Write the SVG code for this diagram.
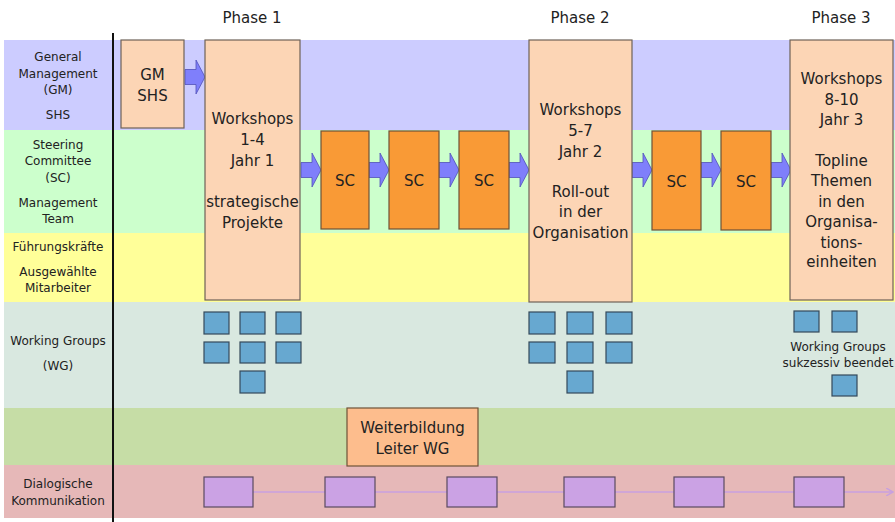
<svg xmlns="http://www.w3.org/2000/svg" xmlns:xlink="http://www.w3.org/1999/xlink" width="895" height="522" viewBox="0 0 895 522">
  <style>
    text { font-family: "DejaVu Sans", Verdana, sans-serif; fill: #222; text-anchor: middle; }
    .lbl { font-size: 12px; }
    .big { font-size: 15px; }
    .ws { fill: #fcd5b5; stroke: #6e6258; stroke-width: 1.2; }
    .sc { fill: #f99a36; stroke: #6e5238; stroke-width: 1.2; }
    .wg { fill: #67a8d0; stroke: #34495a; stroke-width: 1.2; }
    .wb { fill: #fdbd8d; stroke: #6e5238; stroke-width: 1.2; }
    .dk { fill: #cba2e4; stroke: #5a4a60; stroke-width: 1.2; }
    .arr { fill: #7f7ffb; stroke: #5050b8; stroke-width: 0.8; }
  </style>
  <defs>
    <!-- block arrow, 20 wide, centred on y=0 -->
    <path id="blk" d="M0,-7.5 H11 V-17 L20,0 L11,17 V7.5 H0 Z"/>
    <marker id="tip" markerWidth="8" markerHeight="8" refX="7" refY="4" orient="auto" markerUnits="userSpaceOnUse">
      <path d="M0,0 L7,4 L0,8" fill="none" stroke="#c8a0e0" stroke-width="1.5"/>
    </marker>
  </defs>

  <rect width="895" height="522" fill="#ffffff"/>

  <!-- swimlane bands -->
  <g id="lanes">
    <rect x="4" y="40" width="891" height="90" fill="#ccccff"/>
    <rect x="4" y="130" width="891" height="103" fill="#ccffcc"/>
    <rect x="4" y="233" width="891" height="69" fill="#ffff99"/>
    <rect x="4" y="302" width="891" height="106" fill="#d9e8e0"/>
    <rect x="4" y="408" width="891" height="57" fill="#c6dda6"/>
    <rect x="4" y="465" width="891" height="53" fill="#e6b8b8"/>
  </g>

  <!-- lane labels -->
  <g id="lane-labels">
    <text class="lbl" x="58" y="61">General</text>
    <text class="lbl" x="58" y="78">Management</text>
    <text class="lbl" x="58" y="94">(GM)</text>
    <text class="lbl" x="58" y="119">SHS</text>
    <text class="lbl" x="58" y="149">Steering</text>
    <text class="lbl" x="58" y="165">Committee</text>
    <text class="lbl" x="58" y="182">(SC)</text>
    <text class="lbl" x="58" y="207">Management</text>
    <text class="lbl" x="58" y="223">Team</text>
    <text class="lbl" x="58" y="251">Führungskräfte</text>
    <text class="lbl" x="58" y="276">Ausgewählte</text>
    <text class="lbl" x="58" y="292">Mitarbeiter</text>
    <text class="lbl" x="58" y="345">Working Groups</text>
    <text class="lbl" x="58" y="370">(WG)</text>
    <text class="lbl" x="58" y="488">Dialogische</text>
    <text class="lbl" x="58" y="505">Kommunikation</text>
  </g>

  <line x1="113" y1="33" x2="113" y2="522" stroke="#111" stroke-width="2"/>

  <!-- phase headings -->
  <g id="phases">
    <text class="big" x="252" y="23">Phase 1</text>
    <text class="big" x="580" y="23">Phase 2</text>
    <text class="big" x="841" y="23">Phase 3</text>
  </g>

  <!-- connectors -->
  <g id="connectors">
    <use xlink:href="#blk" class="arr" x="185" y="77"/>
    <use xlink:href="#blk" class="arr" x="301" y="170"/>
    <use xlink:href="#blk" class="arr" x="369" y="170"/>
    <use xlink:href="#blk" class="arr" x="439" y="170"/>
    <use xlink:href="#blk" class="arr" x="509" y="170"/>
    <use xlink:href="#blk" class="arr" x="632" y="170"/>
    <use xlink:href="#blk" class="arr" x="701" y="170"/>
    <use xlink:href="#blk" class="arr" x="771" y="170"/>
    <line x1="253" y1="492" x2="893" y2="492" stroke="#c8a0e0" stroke-width="1.5" marker-end="url(#tip)"/>
  </g>

  <g id="gm-shs">
    <rect class="ws" x="121" y="40" width="63" height="88"/>
    <text class="big" x="152.5" y="80">GM</text>
    <text class="big" x="152.5" y="101">SHS</text>
  </g>

  <g id="workshops-1">
    <rect class="ws" x="205" y="40" width="95" height="260"/>
    <text class="big" x="252.5" y="124">Workshops</text>
    <text class="big" x="252.5" y="145">1-4</text>
    <text class="big" x="252.5" y="166">Jahr 1</text>
    <text class="big" x="252.5" y="207">strategische</text>
    <text class="big" x="252.5" y="228">Projekte</text>
  </g>

  <g id="sc-1"><rect class="sc" x="321" y="131" width="48" height="98"/><text class="big" x="345" y="186">SC</text></g>
  <g id="sc-2"><rect class="sc" x="389" y="131" width="50" height="98"/><text class="big" x="414" y="186">SC</text></g>
  <g id="sc-3"><rect class="sc" x="459" y="131" width="50" height="98"/><text class="big" x="484" y="186">SC</text></g>

  <g id="workshops-2">
    <rect class="ws" x="529" y="40" width="103" height="262"/>
    <text class="big" x="580.5" y="115">Workshops</text>
    <text class="big" x="580.5" y="136">5-7</text>
    <text class="big" x="580.5" y="157">Jahr 2</text>
    <text class="big" x="580.5" y="197">Roll-out</text>
    <text class="big" x="580.5" y="217">in der</text>
    <text class="big" x="580.5" y="238">Organisation</text>
  </g>

  <g id="sc-4"><rect class="sc" x="652" y="131" width="49" height="99"/><text class="big" x="676.5" y="187">SC</text></g>
  <g id="sc-5"><rect class="sc" x="721" y="131" width="50" height="99"/><text class="big" x="746" y="187">SC</text></g>

  <g id="workshops-3">
    <rect class="ws" x="790" y="40" width="103" height="260"/>
    <text class="big" x="841.5" y="84">Workshops</text>
    <text class="big" x="841.5" y="105">8-10</text>
    <text class="big" x="841.5" y="125">Jahr 3</text>
    <text class="big" x="841.5" y="166">Topline</text>
    <text class="big" x="841.5" y="186">Themen</text>
    <text class="big" x="841.5" y="207">in den</text>
    <text class="big" x="841.5" y="227">Organisa-</text>
    <text class="big" x="841.5" y="248">tions-</text>
    <text class="big" x="841.5" y="267">einheiten</text>
  </g>

  <!-- working groups -->
  <g id="wg-1">
    <rect class="wg" x="204" y="312" width="25" height="22"/>
    <rect class="wg" x="240" y="312" width="25" height="22"/>
    <rect class="wg" x="276" y="312" width="25" height="22"/>
    <rect class="wg" x="204" y="342" width="25" height="21"/>
    <rect class="wg" x="240" y="342" width="25" height="21"/>
    <rect class="wg" x="276" y="342" width="25" height="21"/>
    <rect class="wg" x="240" y="371" width="25" height="22"/>
  </g>
  <g id="wg-2">
    <rect class="wg" x="529" y="312" width="26" height="22"/>
    <rect class="wg" x="567" y="312" width="26" height="22"/>
    <rect class="wg" x="606" y="312" width="26" height="22"/>
    <rect class="wg" x="529" y="342" width="26" height="21"/>
    <rect class="wg" x="567" y="342" width="26" height="21"/>
    <rect class="wg" x="606" y="342" width="26" height="21"/>
    <rect class="wg" x="567" y="371" width="26" height="22"/>
  </g>
  <g id="wg-3">
    <rect class="wg" x="794" y="311" width="25" height="21"/>
    <rect class="wg" x="832" y="311" width="25" height="21"/>
    <rect class="wg" x="832" y="375" width="25" height="21"/>
    <text x="838" y="351" style="font-size:12px">Working Groups</text>
    <text x="838" y="367" style="font-size:12px">sukzessiv beendet</text>
  </g>

  <g id="weiterbildung">
    <rect class="wb" x="347" y="408" width="131" height="58"/>
    <text class="big" x="412.5" y="433">Weiterbildung</text>
    <text class="big" x="412.5" y="454">Leiter WG</text>
  </g>

  <!-- dialogue events -->
  <g id="dialog">
    <rect class="dk" x="204" y="477" width="49" height="30"/>
    <rect class="dk" x="325" y="477" width="50" height="30"/>
    <rect class="dk" x="447" y="477" width="50" height="30"/>
    <rect class="dk" x="564" y="477" width="51" height="30"/>
    <rect class="dk" x="674" y="477" width="50" height="30"/>
    <rect class="dk" x="794" y="477" width="50" height="30"/>
  </g>
</svg>
